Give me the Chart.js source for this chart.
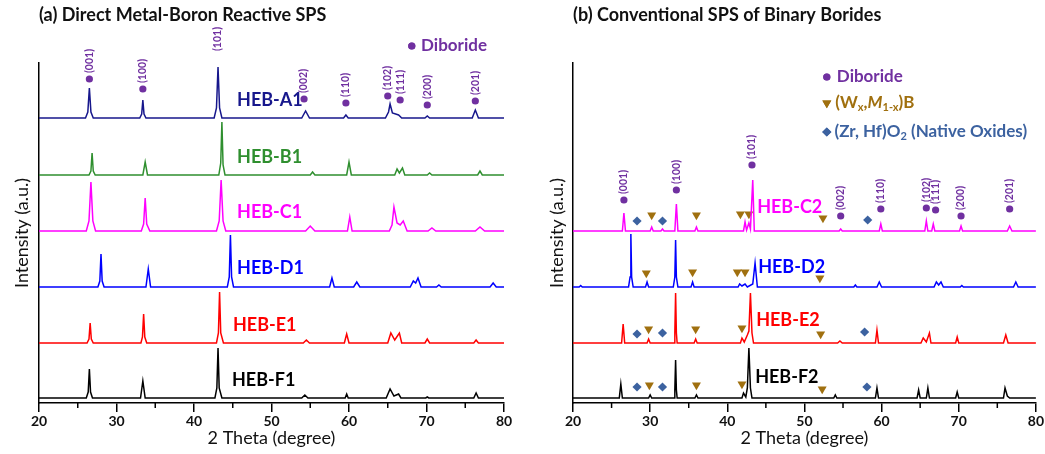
<!DOCTYPE html>
<html><head><meta charset="utf-8">
<script src="https://cdn.jsdelivr.net/npm/chart.js@4.4.1/dist/chart.umd.min.js"></script>
<style>
html,body{margin:0;padding:0;background:#fff;width:1045px;height:454px;overflow:hidden}
#wa{position:absolute;left:0;top:0;width:520px;height:454px}
#wb{position:absolute;left:525px;top:0;width:520px;height:454px}
</style></head><body>
<div id="wa"><canvas id="ca"></canvas></div>
<div id="wb"><canvas id="cb"></canvas></div>
<script>
// ---------------- DATA ----------------
const xTickValues = [20, 30, 40, 50, 60, 70, 80];
const xMinorTicks = [25, 35, 45, 55, 65, 75];

// panel (a): sample names, vertical offsets
const namesA = ['HEB-A1', 'HEB-B1', 'HEB-C1', 'HEB-D1', 'HEB-E1', 'HEB-F1'];
const offsetsA = [285, 228, 172, 116, 60, 5];
// panel (b)
const namesB = ['HEB-C2', 'HEB-D2', 'HEB-E2', 'HEB-F2'];
const offsetsB = [172, 116, 60, 5];

// patterns: [2theta, intensity above baseline]
const patA1 = [[20,0],[26.0,0],[26.3,6],[26.5,30],[26.7,6],[27.0,0],[33.0,0],[33.25,4],[33.4,18],[33.55,4],[33.8,0],
  [42.6,0],[42.9,10],[43.1,51],[43.3,10],[43.6,0],[53.9,0],[54.4,7],[54.9,0],[59.3,0],[59.6,3],[59.9,0],
  [64.7,0],[65.1,6],[65.3,14],[65.6,5],[66.4,3],[66.8,0],[69.8,0],[70.1,2],[70.4,0],[75.9,0],[76.3,8],[76.7,0],[80,0]];
const patB1 = [[20,0],[26.45,0],[26.7,4],[26.85,22],[27.0,4],[27.25,0],[33.4,0],[33.7,13],[34.0,0],
  [43.2,0],[43.45,12],[43.6,53],[43.75,10],[44.0,0],[55.0,0],[55.3,3],[55.6,0],[59.7,0],[60.0,13],[60.3,0],
  [65.9,0],[66.2,6],[66.5,2],[66.9,7],[67.2,0],[70.1,0],[70.4,2],[70.7,0],[76.6,0],[76.9,4],[77.2,0],[80,0]];
const patC1 = [[20,0],[26.1,0],[26.45,10],[26.7,49],[26.95,10],[27.3,0],[33.2,0],[33.5,7],[33.7,33],[33.9,7],[34.3,0],
  [42.9,0],[43.25,10],[43.5,51],[43.75,10],[44.1,0],[54.4,0],[55.0,5],[55.6,0],[59.8,0],[60.1,14],[60.4,0],
  [65.2,0],[65.55,6],[65.8,24],[66.2,8],[66.6,6],[67.0,10],[67.5,0],[70.2,0],[70.7,3],[71.2,0],[76.3,0],[76.9,4],[77.5,0],[80,0]];
const patD1 = [[20,0],[27.6,0],[27.85,6],[28.0,33],[28.15,6],[28.4,0],[33.8,0],[34.1,18],[34.4,0],
  [44.3,0],[44.55,10],[44.7,52],[44.85,10],[45.1,0],[57.5,0],[57.8,9],[58.1,0],[60.6,0],[61.0,5],[61.4,0],
  [67.9,0],[68.3,6],[68.6,4],[68.9,9],[69.3,0],[71.3,0],[71.6,2],[71.9,0],[78.2,0],[78.6,4],[79.0,0],[80,0]];
const patE1 = [[20,0],[26.2,0],[26.45,4],[26.6,20],[26.75,4],[27.0,0],[33.15,0],[33.35,6],[33.5,29],[33.65,6],[33.9,0],
  [42.9,0],[43.15,10],[43.3,51],[43.45,10],[43.8,0],[54.1,0],[54.5,3],[54.9,0],[59.4,0],[59.7,9],[60.0,0],
  [65.0,0],[65.4,10],[65.9,3],[66.5,10],[66.8,0],[69.8,0],[70.1,4],[70.4,0],[76.1,0],[76.4,3],[76.7,0],[80,0]];
const patF1 = [[20,0],[26.1,0],[26.35,6],[26.5,29],[26.65,6],[26.9,0],[33.1,0],[33.4,17],[33.7,0],
  [42.7,0],[42.95,10],[43.1,50],[43.25,10],[43.6,0],[53.9,0],[54.3,3],[54.7,0],[59.5,0],[59.7,4],[59.9,0],
  [64.8,0],[65.3,9],[65.8,2],[66.4,4],[66.7,0],[69.9,0],[70.1,1],[70.3,0],[76.1,0],[76.4,5],[76.7,0],[80,0]];

const patC2 = [[20,0],[26.4,0],[26.6,18],[26.8,0],[30.0,0],[30.2,4],[30.4,0],[31.4,0],[31.6,2],[31.8,0],
  [33.2,0],[33.4,27],[33.6,0],[35.8,0],[36.0,4],[36.2,0],[42.1,0],[42.3,9],[42.5,1],[42.8,8],[43.0,2],[43.3,51],[43.5,0],
  [54.5,0],[54.7,2],[54.9,0],[59.7,0],[59.9,7],[60.1,0],[65.6,0],[65.8,10],[66.0,0],[66.5,0],[66.7,7],[66.9,0],
  [70.1,0],[70.3,5],[70.5,0],[76.3,0],[76.6,5],[76.9,0],[80,0]];
const patD2 = [[20,0],[20.8,0],[21.0,1.5],[21.2,0],[27.2,0],[27.4,10],[27.5,53],[27.6,10],[27.8,0],[29.4,0],[29.6,5],[29.8,0],
  [33.0,0],[33.2,10],[33.3,47],[33.4,10],[33.6,0],[35.3,0],[35.5,5],[35.7,0],
  [41.4,0],[41.6,3],[41.9,1],[42.3,3],[42.6,0],[43.3,3],[43.6,24],[43.9,0],[56.4,0],[56.6,2],[56.8,0],
  [59.4,0],[59.7,5],[60.0,0],[66.8,0],[67.1,5],[67.4,2],[67.7,5],[68.0,0],[70.2,0],[70.4,1.5],[70.6,0],
  [77.1,0],[77.4,5],[77.7,0],[80,0]];
const patE2 = [[20,0],[26.3,0],[26.5,19],[26.7,0],[29.6,0],[29.8,4],[30.0,0],[33.1,0],[33.2,10],[33.3,50],[33.4,10],[33.5,0],
  [35.7,0],[35.9,4],[36.1,0],[41.7,0],[41.9,5],[42.2,1],[42.6,8],[42.8,12],[43.0,50],[43.2,10],[43.4,0],
  [54.3,0],[54.6,2],[54.9,0],[59.2,0],[59.4,13],[59.6,0],[65.1,0],[65.4,5],[65.8,1],[66.2,10],[66.4,0],
  [69.6,0],[69.8,6],[70.0,0],[75.8,0],[76.1,8],[76.4,0],[80,0]];
const patF2 = [[20,0],[26.0,0],[26.2,14],[26.4,0],[29.8,0],[30.0,3],[30.2,0],[33.1,0],[33.2,8],[33.3,38],[33.4,8],[33.5,0],
  [35.8,0],[36.0,3],[36.2,0],[41.9,0],[42.1,5],[42.4,1],[42.6,10],[42.8,50],[43.0,10],[43.2,0],
  [53.8,0],[54.0,3],[54.2,0],[59.2,0],[59.4,10],[59.6,0],[64.6,0],[64.8,8],[65.0,0],[65.8,0],[66.0,10],[66.2,0],
  [69.6,0],[69.8,6],[70.0,0],[75.8,0],[76.0,10],[76.3,2],[76.6,0],[80,0]];

// phase markers (2theta, plotted height)
const hklLabels = ['(001)', '(100)', '(101)', '(002)', '(110)', '(102)', '(111)', '(200)', '(201)'];
const diborideAx = [26.5, 33.4, 43.1, 54.2, 59.6, 65.0, 66.6, 70.1, 76.3];
const diborideAy = [324, 314, 346, 304, 300, 307, 303, 298, 302];
const diborideBx = [26.6, 33.4, 43.2, 54.7, 59.9, 65.8, 67.0, 70.3, 76.6];
const diborideBy = [203, 213, 238, 187, 194, 195, 193, 187, 194];
const wmbBx = [30.2, 36.0, 41.7, 42.8, 52.4, 29.5, 35.5, 41.3, 42.3, 52.0, 29.8, 35.9, 41.9, 52.1, 29.9, 36.0, 41.9, 52.3];
const wmbBy = [188, 188, 189, 189, 185, 130, 131, 131, 131, 125, 74, 74, 75, 69, 18, 18, 19, 14];
const oxideBx = [28.3, 31.6, 58.2, 28.3, 31.6, 57.8, 28.3, 31.6, 58.1];
const oxideBy = [182, 182, 183, 69, 70, 71, 16, 16, 16];

// ---------------- STYLE ----------------
const colorsA = ['#17178c', '#2f8f2f', '#ff00ff', '#0000ff', '#ff0000', '#000000'];
const colorsB = ['#ff00ff', '#0000ff', '#ff0000', '#000000'];
const PURPLE = '#7030a0', BROWN = '#a0700f', OXBLUE = '#3c62a0';
const FONT = 'Lato, "Open Sans", sans-serif';

function traceSets(pats, offsets, colors) {
  return pats.map((p, i) => ({
    type: 'line',
    data: p.map(([x, h]) => ({x: x, y: h + offsets[i]})),
    borderColor: colors[i], borderWidth: 1.5, pointRadius: 0, tension: 0, fill: false
  }));
}
function markerSet(xs, ys, style, r, color, rot) {
  return {type: 'scatter', data: xs.map((x, i) => ({x: x, y: ys[i]})),
    pointStyle: style, pointRadius: r, pointRotation: rot || 0, backgroundColor: color,
    borderColor: color, borderWidth: 0, showLine: false, clip: false};
}

const annotPlugin = {
  id: 'annot',
  afterDraw(chart, args, o) {
    const {ctx} = chart; const xs = chart.scales.x, ys = chart.scales.y;
    ctx.save();
    ctx.strokeStyle = '#000'; ctx.lineWidth = 1.5;
    xMinorTicks.forEach(v => { const px = xs.getPixelForValue(v);
      ctx.beginPath(); ctx.moveTo(px, xs.top); ctx.lineTo(px, xs.top + 5); ctx.stroke(); });
    ctx.fillStyle = PURPLE; ctx.font = 'bold 10.5px ' + FONT; ctx.textAlign = 'center'; ctx.textBaseline = 'middle';
    o.hklX.forEach((v, i) => { const px = xs.getPixelForValue(v), py = ys.getPixelForValue(o.hklY[i]) - 18;
      ctx.save(); ctx.translate(px, py); ctx.rotate(-Math.PI / 2); ctx.fillText(hklLabels[i], 0, 0); ctx.restore(); });
    ctx.textAlign = 'left';
    o.names.forEach(n => { ctx.fillStyle = n.c; ctx.font = 'bold 18px ' + FONT;
      ctx.fillText(n.t, xs.getPixelForValue(n.x), ys.getPixelForValue(n.y)); });
    o.legend.forEach(L => {
      const mx = xs.getPixelForValue(L.mx), my = ys.getPixelForValue(L.my);
      ctx.fillStyle = L.c; ctx.strokeStyle = L.c;
      Chart.helpers.drawPoint(ctx, {pointStyle: L.s, radius: L.r, rotation: L.rot || 0, borderWidth: 0}, mx, my);
      ctx.fill();
      let tx = xs.getPixelForValue(L.tx);
      L.segs.forEach(([t, f, dy]) => { ctx.font = f; ctx.fillText(t, tx, my + (dy || 0)); tx += ctx.measureText(t).width; });
    });
    ctx.restore();
  }
};

const B17 = 'bold 17px ' + FONT, B11 = 'bold 11px ' + FONT, BI17 = 'italic bold 17px ' + FONT;

function makeChart(id, opt) {
  return new Chart(document.getElementById(id), {
    data: {datasets: opt.datasets},
    plugins: [annotPlugin],
    options: {
      responsive: true, maintainAspectRatio: false, animation: false, devicePixelRatio: 1,
      layout: {padding: {left: 0, right: opt.padRight, top: 0, bottom: 0}, autoPadding: false},
      plugins: {
        legend: {display: false}, tooltip: {enabled: false},
        title: {display: true, text: opt.title, align: 'start', fullSize: false, color: '#111',
          font: {family: FONT, size: 18, weight: 'bold', lineHeight: 1.2}, padding: {top: 4, bottom: 37.4}},
        annot: opt.annot
      },
      scales: {
        x: {type: 'linear', min: 20, max: 80,
          afterBuildTicks: s => { s.ticks = xTickValues.map(v => ({value: v})); },
          afterFit: s => { s.height = 51; },
          ticks: {color: '#111', padding: 1, font: {family: FONT, size: 14, weight: 'bold'}, maxRotation: 0},
          grid: {display: true, drawOnChartArea: false, drawTicks: true, tickLength: 9, color: '#000', lineWidth: 1.5},
          border: {display: true, color: '#000', width: 1.5},
          title: {display: true, text: '2 Theta (degree)', color: '#111',
            font: {family: FONT, size: 18, lineHeight: 1.2}, padding: {top: 0, bottom: 5}}},
        y: {type: 'linear', min: 0, max: 340,
          afterFit: s => { s.width = opt.yWidth; },
          ticks: {display: false}, grid: {display: false},
          border: {display: true, color: '#000', width: 1.5},
          title: {display: true, text: 'Intensity (a.u.)', color: '#111',
            font: {family: FONT, size: 18, lineHeight: 1.2}, padding: {top: opt.yTitlePad, bottom: 0}}}
      }
    }
  });
}

makeChart('ca', {
  title: '(a) Direct Metal-Boron Reactive SPS', padRight: 16, yWidth: 39, yTitlePad: 11,
  datasets: [...traceSets([patA1, patB1, patC1, patD1, patE1, patF1], offsetsA, colorsA),
    markerSet(diborideAx, diborideAy, 'circle', 3.6, PURPLE)],
  annot: {hklX: diborideAx, hklY: diborideAy,
    names: [{t: namesA[0], x: 45.55, y: 303, c: colorsA[0]}, {t: namesA[1], x: 45.55, y: 246, c: colorsA[1]},
      {t: namesA[2], x: 45.55, y: 191, c: colorsA[2]}, {t: namesA[3], x: 45.55, y: 135, c: colorsA[3]},
      {t: namesA[4], x: 45.03, y: 78, c: colorsA[4]}, {t: namesA[5], x: 44.9, y: 23, c: colorsA[5]}],
    legend: [{mx: 68.1, my: 357, s: 'circle', r: 3.6, c: PURPLE, tx: 69.3, segs: [['Diboride', B17]]}]}
});

makeChart('cb', {
  title: '(b) Conventional SPS of Binary Borides', padRight: 7, yWidth: 48, yTitlePad: 21,
  datasets: [...traceSets([patC2, patD2, patE2, patF2], offsetsB, colorsB),
    markerSet(diborideBx, diborideBy, 'circle', 3.6, PURPLE),
    markerSet(wmbBx, wmbBy, 'triangle', 5.2, BROWN, 180),
    markerSet(oxideBx, oxideBy, 'rectRot', 4.6, OXBLUE)],
  annot: {hklX: diborideBx, hklY: diborideBy,
    names: [{t: namesB[0], x: 43.87, y: 196, c: colorsB[0]}, {t: namesB[1], x: 44.0, y: 136, c: colorsB[1]},
      {t: namesB[2], x: 43.74, y: 83, c: colorsB[2]}, {t: namesB[3], x: 43.61, y: 26, c: colorsB[3]}],
    legend: [
      {mx: 52.9, my: 326, s: 'circle', r: 3.6, c: PURPLE, tx: 54.2, segs: [['Diboride', B17]]},
      {mx: 52.9, my: 300, s: 'triangle', r: 5.2, rot: 180, c: BROWN, tx: 54.0,
        segs: [['(W', B17], ['x', B11, 4], [',', B17], ['M', BI17], ['1-x', B11, 4], [')B', B17]]},
      {mx: 52.9, my: 271, s: 'rectRot', r: 4.6, c: OXBLUE, tx: 53.9,
        segs: [['(Zr, Hf)O', B17], ['2', B11, 4], [' (Native Oxides)', B17]]}]}
});
</script>
</body></html>
